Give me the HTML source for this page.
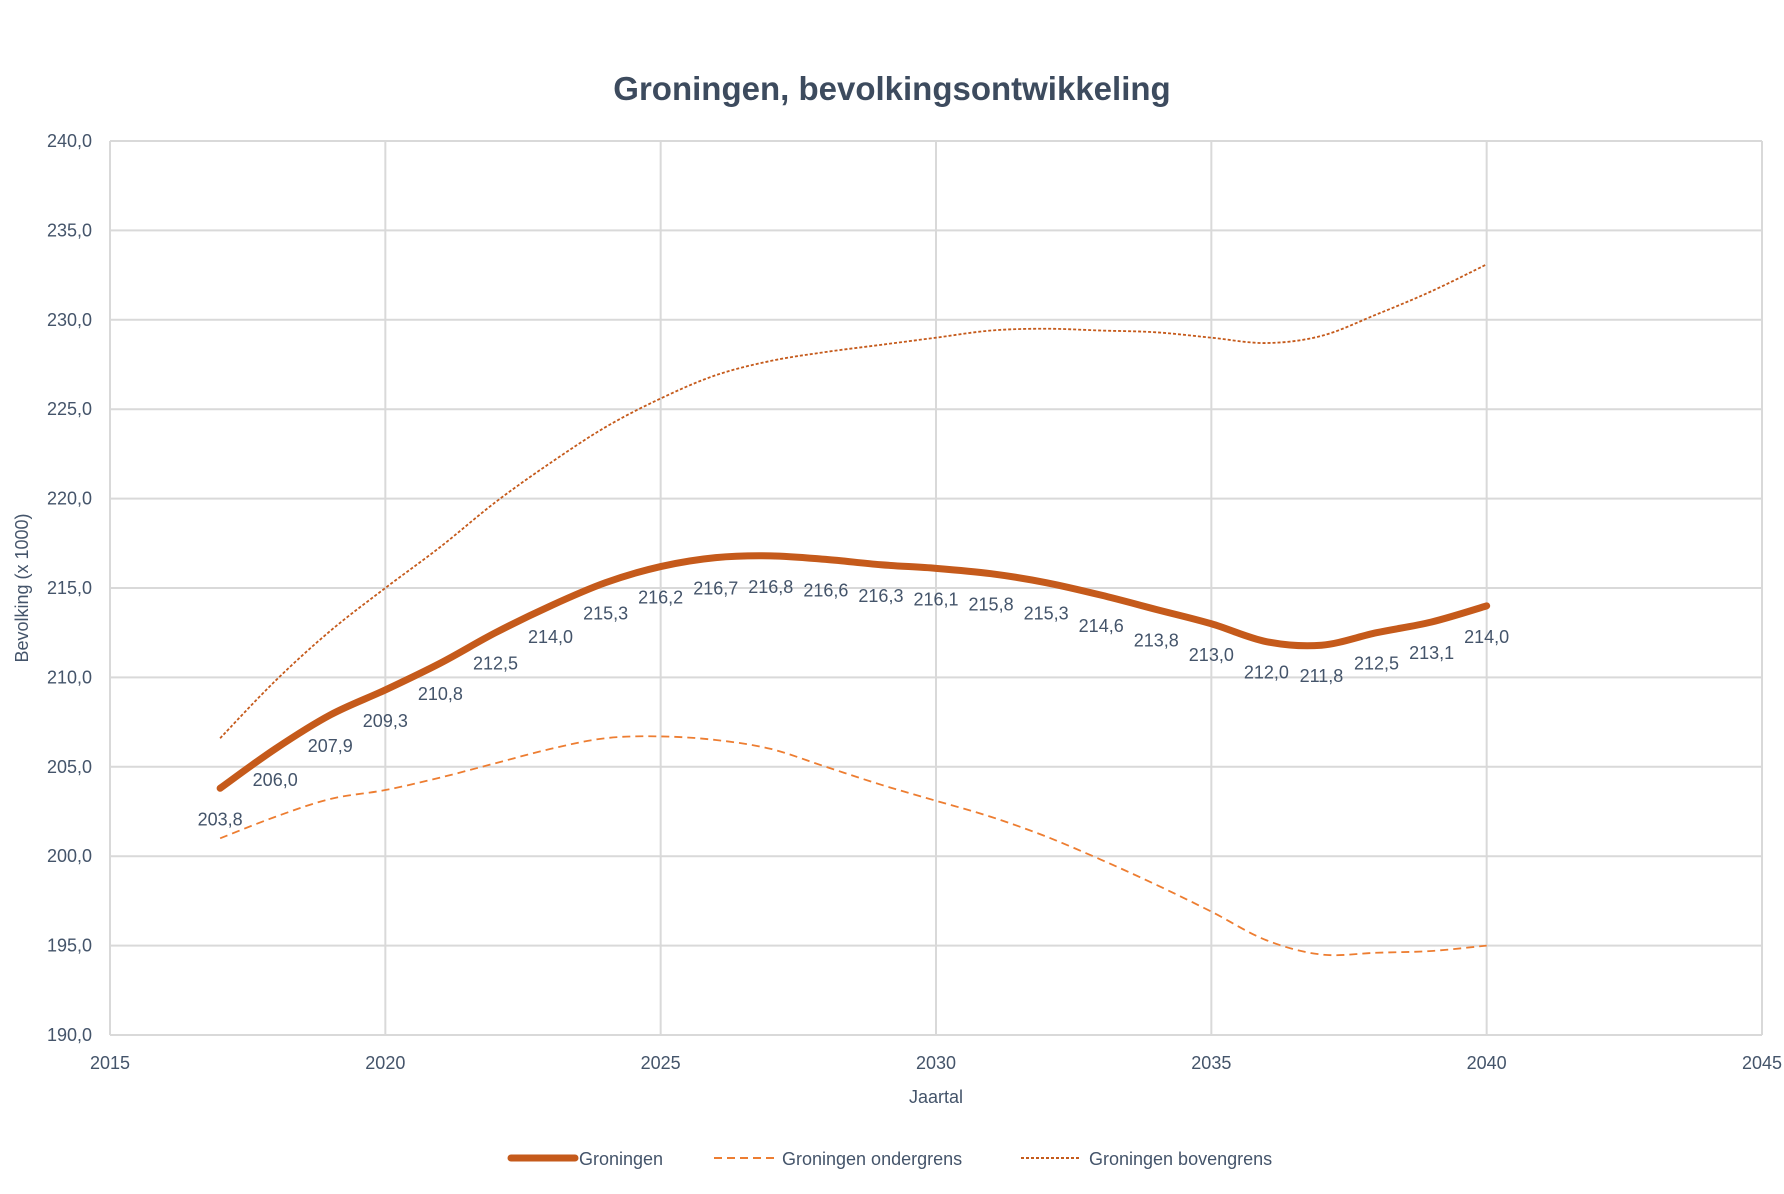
<!DOCTYPE html>
<html><head><meta charset="utf-8"><style>
body{margin:0;background:#fff;font-family:"Liberation Sans",sans-serif}
svg text{font-family:"Liberation Sans",sans-serif;fill:#44546a}
</style></head><body>
<svg id="c" width="1784" height="1189" xmlns="http://www.w3.org/2000/svg">
<text x="892" y="100" text-anchor="middle" font-size="33" font-weight="bold" style="fill:#3d4b5e">Groningen, bevolkingsontwikkeling</text>
<g id="grid"></g>
<g id="series"></g>
<text transform="translate(28,588) rotate(-90)" text-anchor="middle" font-size="18">Bevolking (x 1000)</text>
<text x="936" y="1103" text-anchor="middle" font-size="18">Jaartal</text>
<g>
<g><line x1="511" y1="1158" x2="575" y2="1158" stroke="#c55a1b" stroke-width="7" stroke-linecap="round"/><text x="579" y="1165" font-size="18">Groningen</text></g>
<g><line x1="714" y1="1158" x2="774" y2="1158" stroke="#ed7d31" stroke-width="2" stroke-dasharray="8,5"/><text x="782" y="1165" font-size="18">Groningen ondergrens</text></g>
<g><line x1="1021" y1="1158" x2="1081" y2="1158" stroke="#c55a1b" stroke-width="2" stroke-dasharray="3,2"/><text x="1089" y="1165" font-size="18">Groningen bovengrens</text></g>
</g>
</svg>
<script>
const years=[2017,2018,2019,2020,2021,2022,2023,2024,2025,2026,2027,2028,2029,2030,2031,2032,2033,2034,2035,2036,2037,2038,2039,2040];
const mainValues=[203.8,206.0,207.9,209.3,210.8,212.5,214.0,215.3,216.2,216.7,216.8,216.6,216.3,216.1,215.8,215.3,214.6,213.8,213.0,212.0,211.8,212.5,213.1,214.0];
const lowerValues=[201.0,202.2,203.2,203.7,204.4,205.2,206.0,206.6,206.7,206.5,206.0,205.0,204.0,203.1,202.2,201.1,199.8,198.4,196.9,195.3,194.5,194.6,194.7,195.0];
const upperValues=[206.6,209.8,212.6,215.0,217.3,219.8,222.0,224.0,225.6,226.9,227.7,228.2,228.6,229.0,229.4,229.5,229.4,229.3,229.0,228.7,229.1,230.3,231.6,233.1];
const xTicks=[2015,2020,2025,2030,2035,2040,2045];
const yTicks=[190,195,200,205,210,215,220,225,230,235,240];
const NS='http://www.w3.org/2000/svg';
const L=110,R=1762,T=141,B=1035;
const x=v=>L+(v-2015)/30*(R-L);
const y=v=>B-(v-190)/50*(B-T);
const grid=document.getElementById('grid'),ser=document.getElementById('series');
function mk(tag,at,parent){const e=document.createElementNS(NS,tag);for(const k in at)e.setAttribute(k,at[k]);parent.appendChild(e);return e;}
yTicks.forEach(v=>{
 const l=mk('line',{x1:L,x2:R,y1:y(v),y2:y(v),stroke:'#d9d9d9','stroke-width':2},grid);
 
 
 const t=mk('text',{x:L-18,y:y(v)+6,'text-anchor':'end','font-size':18},grid);
 
 
 t.textContent=v.toFixed(1).replace('.',',');
});
xTicks.forEach(v=>{
 const l=mk('line',{x1:x(v),x2:x(v),y1:T,y2:B,stroke:'#d9d9d9','stroke-width':2},grid);
 
 
 const t=mk('text',{x:x(v),y:B+34,'text-anchor':'middle','font-size':18},grid);
 
 
 t.textContent=v;
});
function path(vals){
 const p=vals.map((v,i)=>[x(years[i]),y(v)]);
 let d='M'+p[0][0]+','+p[0][1];
 for(let i=0;i<p.length-1;i++){
  const p0=p[Math.max(0,i-1)],p1=p[i],p2=p[i+1],p3=p[Math.min(p.length-1,i+2)];
  const c1=[p1[0]+(p2[0]-p0[0])/6,p1[1]+(p2[1]-p0[1])/6],c2=[p2[0]-(p3[0]-p1[0])/6,p2[1]-(p3[1]-p1[1])/6];
  d+=' C'+c1+' '+c2+' '+p2;
 }
 return d;
}
const up=mk('path',{d:path(upperValues),fill:'none',stroke:'#c55a1b','stroke-width':1.8,'stroke-dasharray':'3,2'},ser);


const lo=mk('path',{d:path(lowerValues),fill:'none',stroke:'#ed7d31','stroke-width':1.8,'stroke-dasharray':'8,5'},ser);


const mn=mk('path',{d:path(mainValues),fill:'none',stroke:'#c55a1b','stroke-width':7,'stroke-linecap':'round','stroke-linejoin':'round'},ser);


mainValues.forEach((v,i)=>{
 const t=mk('text',{x:x(years[i]),y:y(v)+37,'text-anchor':'middle','font-size':18},ser);
 
 
 t.textContent=v.toFixed(1).replace('.',',');
});
</script>
</body></html>
